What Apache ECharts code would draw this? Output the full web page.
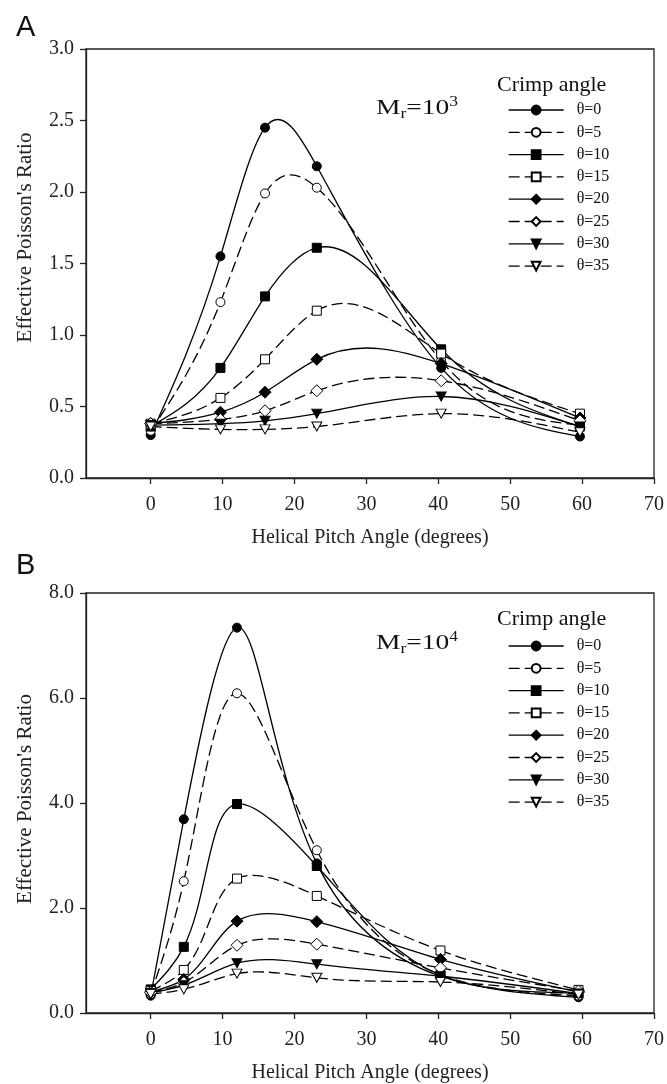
<!DOCTYPE html>
<html><head><meta charset="utf-8">
<script src="https://cdn.jsdelivr.net/npm/echarts@6/dist/echarts.min.js"></script>
<style>html,body{margin:0;padding:0;background:#fff}#c{width:667px;height:1084px}</style>
</head><body><div id="c"></div><script>
// ---------- data ----------
const crimpAngles = [0, 5, 10, 15, 20, 25, 30, 35];
const seriesNames = crimpAngles.map(a => 'θ=' + a);
const xTicks = [0, 10, 20, 30, 40, 50, 60, 70];
const yTicksA = [0, 0.5, 1, 1.5, 2, 2.5, 3];
const yTicksB = [0, 2, 4, 6, 8];

// Panel A (Mr = 10^3): helical pitch angle positions
const pitchA = [0, 9.7, 15.9, 23.1, 40.4, 59.7];
const a_t0  = [0.30, 1.55, 2.45, 2.18, 0.77, 0.29];
const a_t5  = [0.33, 1.23, 1.99, 2.03, 0.82, 0.37];
const a_t10 = [0.36, 0.77, 1.27, 1.61, 0.90, 0.36];
const a_t15 = [0.38, 0.56, 0.83, 1.17, 0.87, 0.45];
const a_t20 = [0.38, 0.46, 0.60, 0.83, 0.80, 0.42];
const a_t25 = [0.38, 0.41, 0.47, 0.61, 0.68, 0.40];
const a_t30 = [0.37, 0.38, 0.40, 0.45, 0.57, 0.36];
const a_t35 = [0.36, 0.34, 0.34, 0.36, 0.45, 0.32];

// Panel B (Mr = 10^4)
const pitchB = [0, 4.6, 12.0, 23.1, 40.3, 59.5];
const b_t0  = [0.33, 3.69, 7.34, 2.85, 0.70, 0.30];
const b_t5  = [0.36, 2.51, 6.09, 3.10, 0.73, 0.33];
const b_t10 = [0.45, 1.26, 3.98, 2.80, 0.72, 0.38];
const b_t15 = [0.42, 0.82, 2.56, 2.23, 1.19, 0.44];
const b_t20 = [0.40, 0.64, 1.75, 1.74, 1.02, 0.40];
const b_t25 = [0.39, 0.58, 1.29, 1.31, 0.86, 0.42];
const b_t30 = [0.38, 0.53, 0.95, 0.93, 0.70, 0.37];
const b_t35 = [0.36, 0.45, 0.75, 0.67, 0.59, 0.35];

const valuesA = [a_t0, a_t5, a_t10, a_t15, a_t20, a_t25, a_t30, a_t35];
const valuesB = [b_t0, b_t5, b_t10, b_t15, b_t20, b_t25, b_t30, b_t35];

// ---------- styles ----------
const symbols  = ['circle', 'circle', 'rect', 'rect', 'diamond', 'diamond', 'triangle', 'triangle'];
const sizes    = [9, 9, 9, 9, 12, 12, [10, 9], [10, 9]];
const rotates  = [0, 0, 0, 0, 0, 0, 180, 180];
const FONT = '"Liberation Serif", "Times New Roman", serif';
const DASH = [11, 5];

// natural cubic spline first derivatives at the knots (rendering helper)
function splineSlopes(ts, vs) {
  const n = ts.length, h = [], M = new Array(n).fill(0);
  for (let i = 0; i < n - 1; i++) h.push(ts[i + 1] - ts[i]);
  const a = [], b = [], c = [], d = [];
  for (let i = 1; i < n - 1; i++) {
    a.push(h[i - 1]); b.push(2 * (h[i - 1] + h[i])); c.push(h[i]);
    d.push(6 * ((vs[i + 1] - vs[i]) / h[i] - (vs[i] - vs[i - 1]) / h[i - 1]));
  }
  const m = b.length;
  for (let i = 1; i < m; i++) { const w = a[i] / b[i - 1]; b[i] -= w * c[i - 1]; d[i] -= w * d[i - 1]; }
  const sol = new Array(m);
  for (let i = m - 1; i >= 0; i--) sol[i] = (d[i] - (i < m - 1 ? c[i] * sol[i + 1] : 0)) / b[i];
  for (let i = 0; i < m; i++) M[i + 1] = sol[i];
  const s = [];
  for (let i = 0; i < n; i++) {
    if (i < n - 1) s.push((vs[i + 1] - vs[i]) / h[i] - h[i] * (2 * M[i] + M[i + 1]) / 6);
    else s.push((vs[i] - vs[i - 1]) / h[i - 1] + h[i - 1] * (M[i - 1] + 2 * M[i]) / 6);
  }
  return s;
}

// spline through the pixel positions of the data points, as cubic Bezier segments.
// parametric=false: y as a function of x; parametric=true: chord-length parameterisation.
function bezierSegments(px, parametric) {
  const t = [0];
  for (let i = 1; i < px.length; i++) {
    t.push(t[i - 1] + (parametric
      ? Math.hypot(px[i][0] - px[i - 1][0], px[i][1] - px[i - 1][1])
      : (px[i][0] - px[i - 1][0])));
  }
  const sx = splineSlopes(t, px.map(p => p[0]));
  const sy = splineSlopes(t, px.map(p => p[1]));
  const segs = [];
  for (let i = 0; i < px.length - 1; i++) {
    const L = (t[i + 1] - t[i]) / 3;
    segs.push({
      x1: px[i][0], y1: px[i][1],
      cpx1: px[i][0] + L * sx[i], cpy1: px[i][1] + L * sy[i],
      cpx2: px[i + 1][0] - L * sx[i + 1], cpy2: px[i + 1][1] - L * sy[i + 1],
      x2: px[i + 1][0], y2: px[i + 1][1]
    });
  }
  return segs;
}

function makeCurves(xs, vals, gridIdx, parametric) {
  return vals.map((ys, k) => {
    const filled = k % 2 === 0;
    return {
      type: 'custom', coordinateSystem: 'cartesian2d',
      xAxisIndex: gridIdx, yAxisIndex: gridIdx,
      data: xs.slice(0, -1).map((x, i) => [x, ys[i]]),
      silent: true, z: 2, animation: false,
      renderItem: function (params, api) {
        const i = params.dataIndex;
        const px = xs.map((x, j) => api.coord([x, ys[j]]));
        const seg = bezierSegments(px, parametric)[i];
        return {
          type: 'bezierCurve',
          shape: seg,
          style: { stroke: '#000', lineWidth: 1.3, fill: null, lineDash: filled ? null : DASH }
        };
      }
    };
  });
}

function makeMarkers(xs, vals, gridIdx) {
  return vals.map((ys, i) => {
    const filled = i % 2 === 0;
    return {
      name: seriesNames[i],
      type: 'line',
      xAxisIndex: gridIdx, yAxisIndex: gridIdx,
      data: xs.map((x, k) => [x, ys[k]]),
      symbol: symbols[i],
      symbolSize: sizes[i],
      symbolRotate: rotates[i],
      showAllSymbol: true,
      lineStyle: { color: '#000', width: 1.3, type: filled ? 'solid' : DASH, opacity: 0 },
      itemStyle: { color: filled ? '#000' : '#fff', borderColor: '#000', borderWidth: 1 },
      emphasis: { disabled: true },
      animation: false,
      z: 5
    };
  });
}

function xAxisDef(gridIdx) {
  return {
    type: 'value', gridIndex: gridIdx, min: -9, max: 70,
    name: 'Helical Pitch Angle (degrees)', nameLocation: 'middle', nameGap: 50,
    nameTextStyle: { fontFamily: FONT, fontSize: 20, color: '#222' },
    axisLine: { show: true, onZero: false, lineStyle: { color: '#222', width: 1.3 } },
    axisTick: { show: true, length: 6, customValues: xTicks, lineStyle: { color: '#222', width: 1.3 } },
    axisLabel: { customValues: xTicks, fontFamily: FONT, fontSize: 20, color: '#222', margin: 17 },
    splitLine: { show: false }
  };
}

function yAxisDef(gridIdx, max, interval, pad) {
  return {
    type: 'value', gridIndex: gridIdx, min: 0, max: max, interval: interval,
    name: "Effective Poisson's Ratio", nameLocation: 'middle', nameGap: 50,
    nameTextStyle: { fontFamily: FONT, fontSize: 21, color: '#222', padding: pad },
    axisLine: { show: true, onZero: false, lineStyle: { color: '#222', width: 1.3 } },
    axisTick: { show: true, length: 6, lineStyle: { color: '#222', width: 1.3 } },
    axisLabel: { fontFamily: FONT, fontSize: 20, color: '#222', margin: 12, formatter: v => v.toFixed(1) },
    splitLine: { show: false }
  };
}

function legendDef(top) {
  return {
    orient: 'vertical', left: 503, top: top,
    data: seriesNames.map((n, i) => ({
      name: n,
      lineStyle: { color: '#000', width: 1.3, opacity: 1, type: i % 2 === 0 ? 'solid' : DASH }
    })),
    itemWidth: 55, itemHeight: 11, itemGap: 6.3,
    selectedMode: false,
    textStyle: { fontFamily: FONT, fontSize: 16, color: '#111', padding: [0, 0, 0, 8] }
  };
}

function mrText(y, exp) {
  return {
    type: 'text', x: 376, y: y, scaleX: 1.25, scaleY: 1,
    style: {
      text: '{m|M}{s|r}{m|=10}{p|' + exp + '}',
      rich: {
        m: { fontFamily: FONT, fontSize: 22, fill: '#111', lineHeight: 26 },
        s: { fontFamily: FONT, fontSize: 14, fill: '#111', lineHeight: 12, verticalAlign: 'bottom' },
        p: { fontFamily: FONT, fontSize: 14, fill: '#111', lineHeight: 12, verticalAlign: 'top' }
      }
    }
  };
}

const chart = echarts.init(document.getElementById('c'), null, { renderer: 'canvas' });
chart.setOption({
  backgroundColor: '#fff',
  animation: false,
  grid: [
    { left: 86, right: 11, top: 49, height: 429, show: true, borderColor: '#222', borderWidth: 1.3 },
    { left: 86, right: 11, top: 593, height: 427, show: true, borderColor: '#222', borderWidth: 1.3 }
  ],
  xAxis: [xAxisDef(0), xAxisDef(1)],
  yAxis: [yAxisDef(0, 3, 0.5, [0, 0, 0, 52]), yAxisDef(1, 8, 2, [0, 0, 0, 8])],
  legend: [legendDef(97), legendDef(633)],
  graphic: [
    { type: 'text', left: 16, top: 13, style: { text: 'A', fontFamily: '"Liberation Sans", Arial, sans-serif', fontSize: 29, fill: '#111' } },
    { type: 'text', left: 16, top: 551, style: { text: 'B', fontFamily: '"Liberation Sans", Arial, sans-serif', fontSize: 29, fill: '#111' } },
    { type: 'text', left: 497, top: 74, style: { text: 'Crimp angle', fontFamily: FONT, fontSize: 22, fill: '#111' } },
    { type: 'text', left: 497, top: 608, style: { text: 'Crimp angle', fontFamily: FONT, fontSize: 22, fill: '#111' } },
    mrText(95, '3'),
    mrText(630, '4')
  ],
  series: makeCurves(pitchA, valuesA, 0, false)
    .concat(makeCurves(pitchB, valuesB, 1, true))
    .concat(makeMarkers(pitchA, valuesA, 0))
    .concat(makeMarkers(pitchB, valuesB, 1))
});
</script></body></html>
